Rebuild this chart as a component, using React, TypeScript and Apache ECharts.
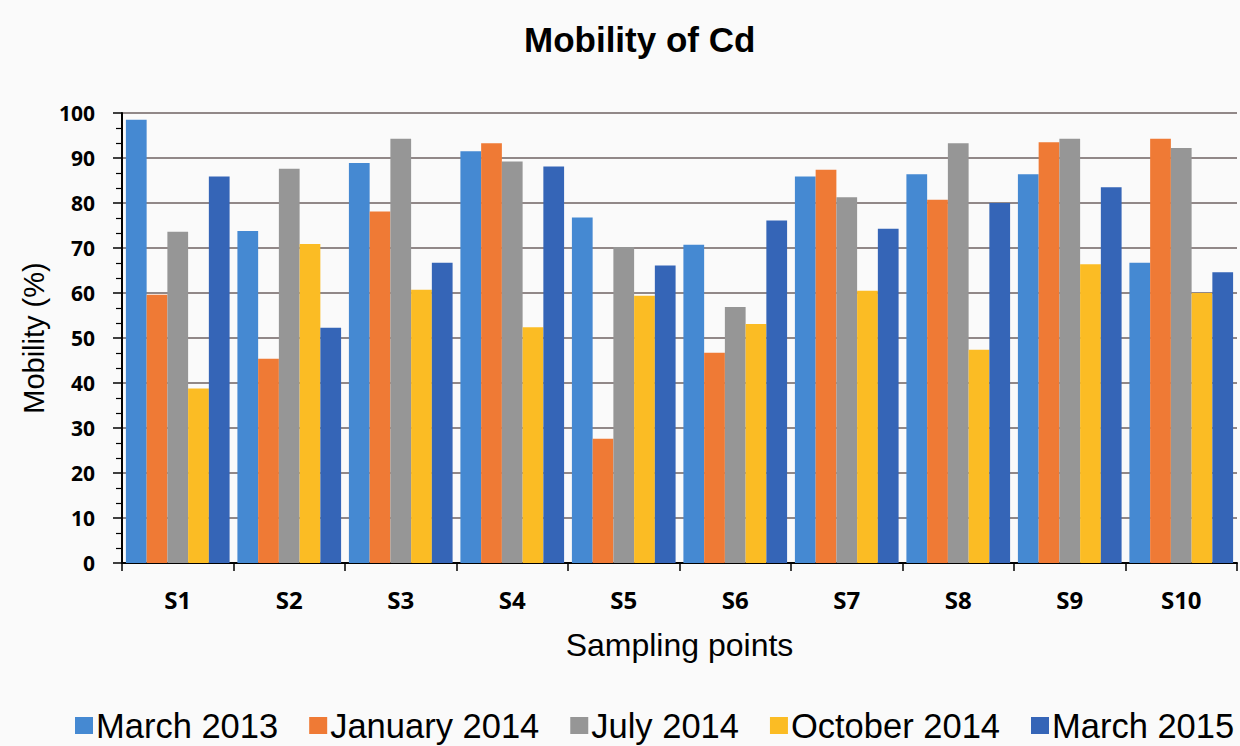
import React, { useEffect, useRef } from "react";
import * as echarts from "echarts";

const categories = ["S1", "S2", "S3", "S4", "S5", "S6", "S7", "S8", "S9", "S10"];
const seriesNames = ["March 2013", "January 2014", "July 2014", "October 2014", "March 2015"];
const march2013 = [98.5, 73.8, 88.9, 91.5, 76.8, 70.7, 85.9, 86.4, 86.4, 66.7];
const january2014 = [59.6, 45.4, 78.1, 93.3, 27.6, 46.7, 87.4, 80.7, 93.5, 94.3];
const july2014 = [73.6, 87.6, 94.3, 89.2, 70.2, 56.9, 81.3, 93.3, 94.3, 92.2];
const october2014 = [38.8, 70.9, 60.7, 52.4, 59.4, 53.1, 60.5, 47.4, 66.4, 60.0];
const march2015 = [85.9, 52.3, 66.7, 88.1, 66.1, 76.1, 74.3, 80.0, 83.5, 64.6];
const colors = ["#4589d2", "#ef7a35", "#969696", "#fbbc24", "#3565b7"];

export default function App() {
  const ref = useRef<HTMLDivElement>(null);
  useEffect(() => {
    if (!ref.current) return;
    const chart = echarts.init(ref.current, undefined, { renderer: "svg" });
    const values = [march2013, january2014, july2014, october2014, march2015];
    chart.setOption({
      animation: false,
      backgroundColor: "#fafafa",
      color: colors,
      title: {
        text: "Mobility of Cd",
        left: 519,
        top: 17,
        textStyle: { fontFamily: "Liberation Sans", fontWeight: "bold", fontSize: 35, color: "#000" },
      },
      legend: {
        left: 70,
        top: 703,
        itemWidth: 18,
        itemHeight: 17,
        itemGap: 31,
        icon: "rect",
        textStyle: { fontFamily: "Liberation Sans", fontSize: 34.5, color: "#000", padding: [0, 0, 0, -2] },
        data: seriesNames,
      },
      grid: { left: 122, right: 3, top: 113, bottom: 183, containLabel: false },
      xAxis: {
        type: "category",
        data: categories,
        name: "Sampling points",
        nameLocation: "middle",
        nameGap: 66,
        nameTextStyle: { fontFamily: "Liberation Sans", fontSize: 32, color: "#000" },
        axisLine: { lineStyle: { color: "#000", width: 2 } },
        axisTick: { show: true, length: 8, lineStyle: { color: "#000", width: 1.5 } },
        axisLabel: {
          margin: 24,
          fontFamily: "Open Sans",
          fontWeight: "bold",
          fontSize: 24,
          color: "#000",
        },
      },
      yAxis: {
        type: "value",
        min: 0,
        max: 100,
        interval: 10,
        name: "Mobility (%)",
        nameLocation: "middle",
        nameGap: 70,
        nameTextStyle: { fontFamily: "Liberation Sans", fontSize: 29, color: "#000" },
        axisLine: { show: true, lineStyle: { color: "#000", width: 2 } },
        axisTick: { show: true, length: 9, lineStyle: { color: "#000", width: 1.5 } },
        minorTick: { show: true, splitNumber: 3, length: 6, lineStyle: { color: "#000", width: 1.2 } },
        axisLabel: {
          margin: 27,
          fontFamily: "Open Sans",
          fontWeight: "bold",
          fontSize: 21,
          color: "#000",
        },
        splitLine: { show: true, lineStyle: { color: "#6e6262", width: 1.5 } },
      },
      series: seriesNames.map((name, i) => ({
        name,
        type: "bar",
        data: values[i],
        barGap: "0%",
        barCategoryGap: "7%",
        itemStyle: { color: colors[i] },
      })),
    });
    return () => chart.dispose();
  }, []);
  return (
    <div
      ref={ref}
      style={{ position: "fixed", left: 0, top: 0, width: 1240, height: 746 }}
    />
  );
}
